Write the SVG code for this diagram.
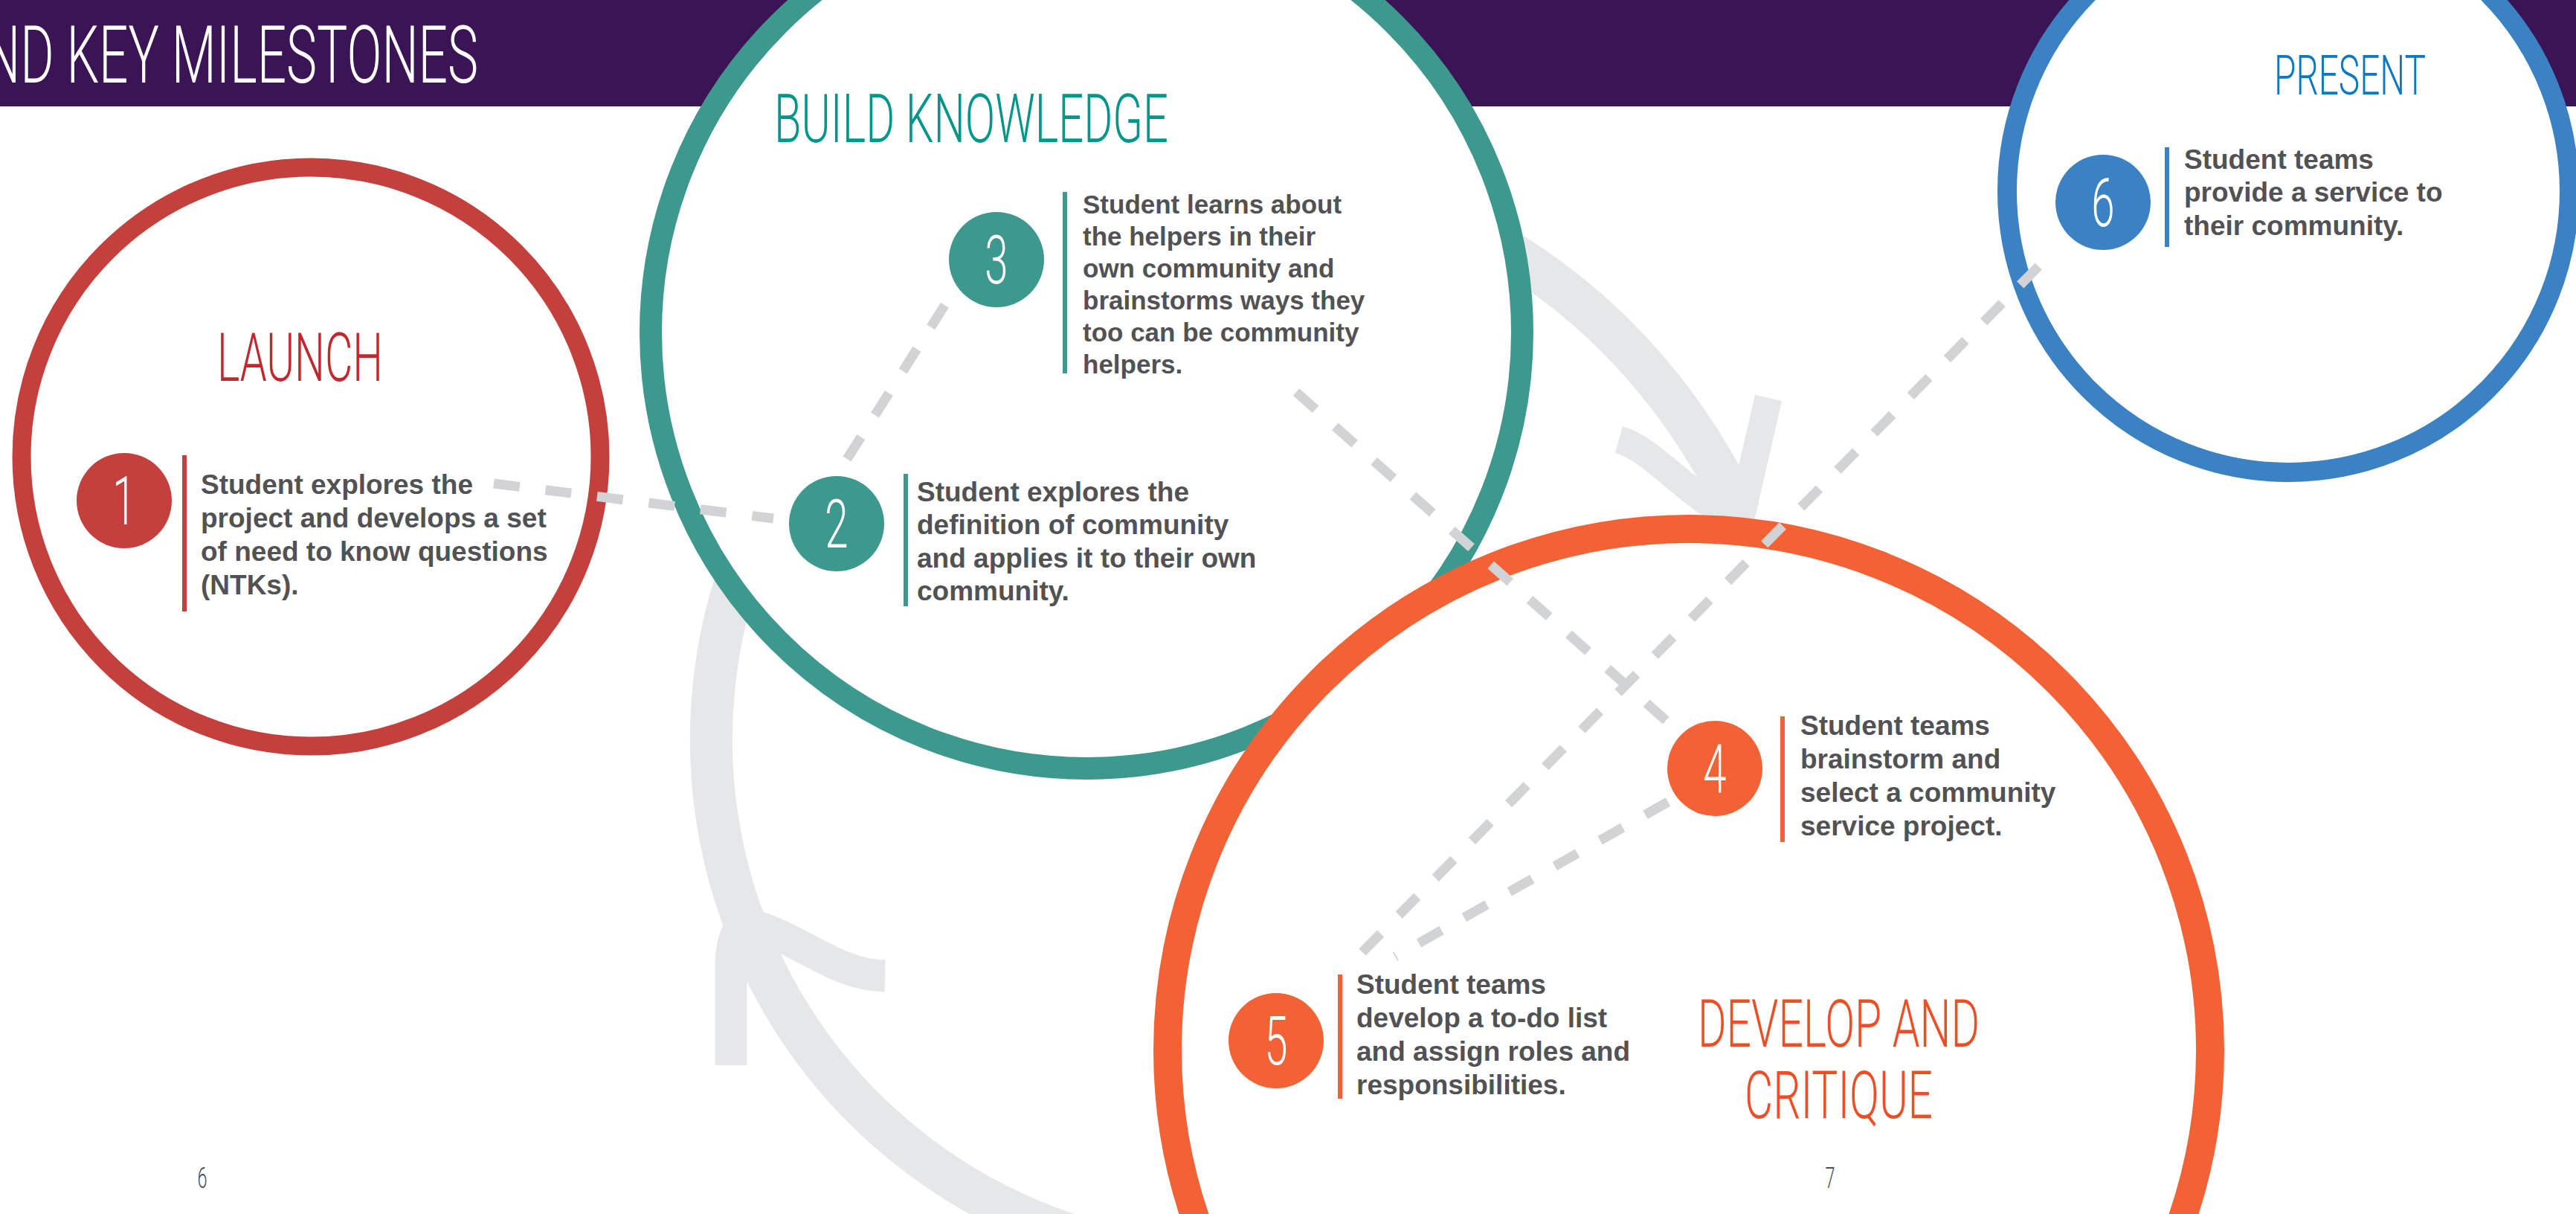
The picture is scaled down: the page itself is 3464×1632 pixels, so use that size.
<svg xmlns="http://www.w3.org/2000/svg" width="3464" height="1632" viewBox="0 0 3464 1632">
<style>
.ttl{font-family:Roboto,"Open Sans","Liberation Sans",sans-serif;font-weight:300}
.body{font-family:"Liberation Sans",Arial,sans-serif;font-weight:bold;fill:#525255}
.dig{font-family:Roboto,"Open Sans","Liberation Sans",sans-serif;font-weight:300;fill:#ffffff;font-size:91px}
.ring{fill:#ffffff}
.cyc{fill:none;stroke:#E6E7E8}
.dash{fill:none;stroke:#D1D3D4;stroke-width:13;stroke-dasharray:35 35}
.pg{font-family:Roboto,"Open Sans","Liberation Sans",sans-serif;font-weight:300;fill:#4D4D4F;font-size:38px}
</style>
<rect width="3464" height="1632" fill="#ffffff"/>
<rect x="0" y="0" width="3464" height="143" fill="#3B1455"/>
<text class="ttl" x="-22" y="111" font-size="107" fill="#ffffff" textLength="665" lengthAdjust="spacingAndGlyphs">ND KEY MILESTONES</text>

<g id="cycle">
<path class="cyc" stroke-width="57" d="M 1021 700 A 701 701 0 0 0 1657 1695"/>
<path class="cyc" stroke-width="43" d="M 983 1432 L 983 1300 C 983 1272 988 1257 1000 1240"/>
<path class="cyc" stroke-width="43" d="M 1190 1312 C 1120 1310 1080 1262 1000 1240"/>
<path class="cyc" stroke-width="57" d="M 1960 300 Q 2212 425 2340 690"/>
<path class="cyc" stroke-width="37" d="M 2378 535 L 2340 700"/>
<path class="cyc" stroke-width="37" d="M 2177 591 C 2225 605 2265 665 2345 705"/>
</g>

<g id="launch">
<circle class="ring" cx="418" cy="614" r="389" stroke="#C4403D" stroke-width="25"/>
<text class="ttl" x="292" y="512" font-size="91" fill="#C1272D" textLength="223" lengthAdjust="spacingAndGlyphs">LAUNCH</text>
</g>
<g id="build-knowledge">
<circle class="ring" cx="1461" cy="447" r="586" stroke="#3D998E" stroke-width="30"/>
<text class="ttl" x="1041" y="191" font-size="90" fill="#00968A" textLength="530" lengthAdjust="spacingAndGlyphs">BUILD KNOWLEDGE</text>
</g>
<g id="present">
<circle class="ring" cx="3077" cy="257" r="378" stroke="#3A82C4" stroke-width="26"/>
<text class="ttl" x="3058" y="127" font-size="75" fill="#0A78C2" textLength="204" lengthAdjust="spacingAndGlyphs">PRESENT</text>
</g>
<g id="develop-critique">
<circle class="ring" cx="2271" cy="1412" r="701" stroke="#F26234" stroke-width="38"/>
<text class="ttl" x="2283" y="1407" font-size="89" fill="#EF4E25" textLength="379" lengthAdjust="spacingAndGlyphs">DEVELOP AND</text>
<text class="ttl" x="2346" y="1503" font-size="89" fill="#EF4E25" textLength="253" lengthAdjust="spacingAndGlyphs">CRITIQUE</text>
</g>

<g id="connectors">
<line class="dash" x1="664" y1="650" x2="1040" y2="697"/>
<line class="dash" x1="1139" y1="617" x2="1277" y2="400"/>
<line class="dash" x1="1743" y1="527" x2="2243" y2="971"/>
<line class="dash" x1="2243" y1="1078" x2="1876" y2="1286"/>
<line class="dash" x1="1832" y1="1280" x2="2762" y2="337"/>
</g>

<g id="step1">
<circle cx="167" cy="673" r="64" fill="#C4403D"/>
<text class="dig" text-anchor="middle" transform="translate(167,705) scale(0.62,1)">1</text>
<rect x="245" y="612" width="6" height="210" fill="#C4403D"/>
<text class="body" font-size="37"><tspan x="270" y="664">Student explores the</tspan><tspan x="270" y="709">project and develops a set</tspan><tspan x="270" y="754">of need to know questions</tspan><tspan x="270" y="799">(NTKs).</tspan></text>
</g>
<g id="step2">
<circle cx="1125" cy="704" r="64" fill="#3D998E"/>
<text class="dig" text-anchor="middle" transform="translate(1125,736) scale(0.62,1)">2</text>
<rect x="1215" y="637" width="6" height="178" fill="#3D998E"/>
<text class="body" font-size="37"><tspan x="1233" y="674">Student explores the</tspan><tspan x="1233" y="718">definition of community</tspan><tspan x="1233" y="763">and applies it to their own</tspan><tspan x="1233" y="807">community.</tspan></text>
</g>
<g id="step3">
<circle cx="1340" cy="349" r="64" fill="#3D998E"/>
<text class="dig" text-anchor="middle" transform="translate(1340,381) scale(0.62,1)">3</text>
<rect x="1429" y="258" width="6" height="244" fill="#3D998E"/>
<text class="body" font-size="35"><tspan x="1456" y="287">Student learns about</tspan><tspan x="1456" y="330">the helpers in their</tspan><tspan x="1456" y="373">own community and</tspan><tspan x="1456" y="416">brainstorms ways they</tspan><tspan x="1456" y="459">too can be community</tspan><tspan x="1456" y="502">helpers.</tspan></text>
</g>
<g id="step4">
<circle cx="2306" cy="1033" r="64" fill="#F26234"/>
<text class="dig" text-anchor="middle" transform="translate(2306,1065) scale(0.62,1)">4</text>
<rect x="2394" y="963" width="6" height="169" fill="#F26234"/>
<text class="body" font-size="37"><tspan x="2421" y="988">Student teams</tspan><tspan x="2421" y="1033">brainstorm and</tspan><tspan x="2421" y="1078">select a community</tspan><tspan x="2421" y="1123">service project.</tspan></text>
</g>
<g id="step5">
<circle cx="1716" cy="1399" r="64" fill="#F26234"/>
<text class="dig" text-anchor="middle" transform="translate(1716,1431) scale(0.62,1)">5</text>
<rect x="1799" y="1310" width="6" height="167" fill="#F26234"/>
<text class="body" font-size="37"><tspan x="1824" y="1336">Student teams</tspan><tspan x="1824" y="1381">develop a to-do list</tspan><tspan x="1824" y="1426">and assign roles and</tspan><tspan x="1824" y="1471">responsibilities.</tspan></text>
</g>
<g id="step6">
<circle cx="2828" cy="272" r="64" fill="#3A82C4"/>
<text class="dig" text-anchor="middle" transform="translate(2828,304) scale(0.62,1)">6</text>
<rect x="2911" y="198" width="6" height="134" fill="#3A82C4"/>
<text class="body" font-size="37"><tspan x="2937" y="227">Student teams</tspan><tspan x="2937" y="271">provide a service to</tspan><tspan x="2937" y="316">their community.</tspan></text>
</g>

<text class="pg" text-anchor="middle" transform="translate(272,1597) scale(0.62,1)">6</text>
<text class="pg" text-anchor="middle" transform="translate(2461,1597) scale(0.62,1)">7</text>
</svg>
